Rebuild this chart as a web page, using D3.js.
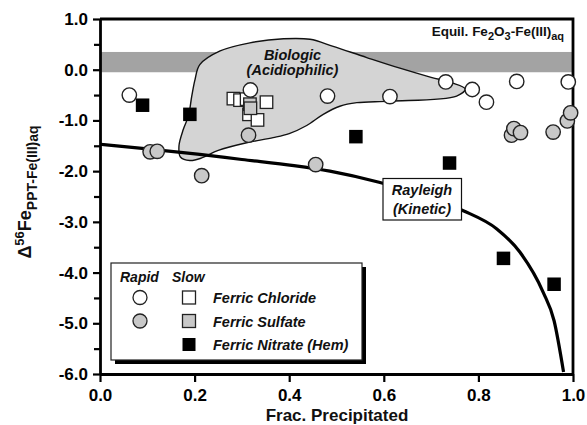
<!DOCTYPE html>
<html><head><meta charset="utf-8">
<script src="https://cdn.jsdelivr.net/npm/d3@7"></script>
<style>
body{margin:0;background:#fff;}
text{font-family:"Liberation Sans",Arial,sans-serif;}
</style></head>
<body><svg id="c" width="587" height="425"></svg>
<script>
// ---- data ----
const xTicks = [0, 0.2, 0.4, 0.6, 0.8, 1.0];
const yTicks = [1, 0, -1, -2, -3, -4, -5, -6];
const yMinorTicks = [0.5, -0.5, -1.5, -2.5, -3.5, -4.5, -5.5];
const equilBand = [-0.05, 0.35];

// Ferric chloride, rapid (white circles)
const chlorideRapid = [[0.062,-0.50],[0.318,-0.40],[0.481,-0.52],[0.613,-0.53],[0.731,-0.24],[0.787,-0.39],[0.817,-0.64],[0.881,-0.23],[0.990,-0.24]];
// Ferric chloride, slow (white squares)
const chlorideSlow = [[0.282,-0.57],[0.296,-0.60],[0.310,-0.58],[0.352,-0.64],[0.315,-0.88],[0.333,-0.99]];
// Ferric sulfate, slow (grey squares)
const sulfateSlow = [[0.317,-0.68],[0.318,-0.76]];
// Ferric sulfate, rapid (grey circles)
const sulfateRapid = [[0.106,-1.62],[0.121,-1.61],[0.215,-2.09],[0.314,-1.29],[0.456,-1.87],[0.870,-1.29],[0.875,-1.16],[0.889,-1.24],[0.958,-1.23],[0.988,-1.01],[0.995,-0.85]];
// Ferric nitrate (hematite), black squares
const nitrate = [[0.090,-0.70],[0.190,-0.88],[0.541,-1.32],[0.739,-1.84],[0.853,-3.72],[0.960,-4.23]];

// Rayleigh (kinetic) curve
const rayleighX = [0, 0.1, 0.211, 0.3, 0.41, 0.486, 0.59, 0.68, 0.768, 0.839, 0.888, 0.937, 0.96, 0.98];
const rayleighY = [-1.47, -1.56, -1.67, -1.77, -1.89, -2.0, -2.22, -2.47, -2.78, -3.14, -3.60, -4.39, -4.95, -5.96];

// Biologic (acidiophilic) field outline
const bioField = [[0.211,0.10],[0.254,0.37],[0.317,0.53],[0.388,0.61],[0.444,0.60],[0.493,0.46],[0.564,0.24],[0.634,0.03],[0.70,-0.15],[0.745,-0.26],[0.772,-0.38],[0.754,-0.52],[0.613,-0.62],[0.543,-0.65],[0.507,-0.72],[0.472,-0.88],[0.437,-1.10],[0.40,-1.26],[0.366,-1.34],[0.310,-1.44],[0.250,-1.59],[0.215,-1.74],[0.190,-1.79],[0.170,-1.72],[0.167,-1.50],[0.176,-1.18],[0.187,-0.91],[0.194,-0.52],[0.201,-0.19]];

const legendRows = ["Ferric Chloride", "Ferric Sulfate", "Ferric Nitrate (Hem)"];

// ---- drawing ----
const svg = d3.select("#c");
const L = 100, R = 573, T = 19, B = 374;
const x = d3.scaleLinear().domain([0, 1]).range([L, R]);
const y = d3.scaleLinear().domain([-6, 1]).range([B, T]);
const GREY_BAND = "#a3a3a3", GREY_FILL = "#d4d4d4", GREY_PT = "#c8c8c8";

svg.append("defs").append("clipPath").attr("id","clip")
  .append("rect").attr("x",L).attr("y",T).attr("width",R-L).attr("height",B-T);

// equilibrium band
svg.append("rect").attr("x", L).attr("width", R - L)
  .attr("y", y(equilBand[1])).attr("height", y(equilBand[0]) - y(equilBand[1]))
  .attr("fill", GREY_BAND);

// biologic field
svg.append("path").datum(bioField)
  .attr("d", d3.line().x(d => x(d[0])).y(d => y(d[1])).curve(d3.curveCatmullRomClosed.alpha(0.5)))
  .attr("fill", GREY_FILL).attr("stroke", "#111").attr("stroke-width", 1.4);

// Rayleigh curve
svg.append("path").datum(rayleighX.map((v, i) => [v, rayleighY[i]]))
  .attr("clip-path","url(#clip)")
  .attr("d", d3.line().x(d => x(d[0])).y(d => y(d[1])).curve(d3.curveMonotoneX))
  .attr("fill", "none").attr("stroke", "#000").attr("stroke-width", 3.2);

// frame
svg.append("path").attr("d", `M${L},${T}H${R}V${B}`).attr("fill","none").attr("stroke","#000").attr("stroke-width",2.8);

// axes
const fmt = d => d.toFixed(1);
const gx = svg.append("g").attr("transform", `translate(0,${B})`)
  .call(d3.axisBottom(x).tickValues(xTicks).tickFormat(fmt).tickSize(8).tickSizeOuter(0).tickPadding(7));
const gy = svg.append("g").attr("transform", `translate(${L},0)`)
  .call(d3.axisLeft(y).tickValues(yTicks).tickFormat(fmt).tickSize(7).tickSizeOuter(0).tickPadding(5));
svg.append("g").attr("transform", `translate(${L},0)`)
  .call(d3.axisLeft(y).tickValues(yMinorTicks).tickFormat("").tickSize(6).tickSizeOuter(0))
  .call(g => g.select(".domain").remove())
  .selectAll("line").attr("stroke-width", 2.2);
[gx, gy].forEach(g => {
  g.select(".domain").attr("stroke-width", 2.8);
  g.selectAll(".tick line").attr("stroke-width", 2.2);
  g.selectAll("text").attr("font-size", 17).attr("font-weight", "bold").attr("fill", "#000")
    .attr("font-family", '"Liberation Sans",Arial,sans-serif');
});

// points
const r = 7.2, sq = 12.5, sqB = 13.5;
svg.append("g").selectAll("rect").data(chlorideSlow).join("rect")
  .attr("x", d => x(d[0]) - sq/2).attr("y", d => y(d[1]) - sq/2).attr("width", sq).attr("height", sq)
  .attr("fill", "#fff").attr("stroke", "#222").attr("stroke-width", 1.3);
svg.append("g").selectAll("rect").data(sulfateSlow).join("rect")
  .attr("x", d => x(d[0]) - sq/2).attr("y", d => y(d[1]) - sq/2).attr("width", sq).attr("height", sq)
  .attr("fill", GREY_PT).attr("stroke", "#222").attr("stroke-width", 1.3);
svg.append("g").selectAll("circle").data(chlorideRapid).join("circle")
  .attr("cx", d => x(d[0])).attr("cy", d => y(d[1])).attr("r", r)
  .attr("fill", "#fff").attr("stroke", "#222").attr("stroke-width", 1.4);
svg.append("g").selectAll("circle").data(sulfateRapid).join("circle")
  .attr("cx", d => x(d[0])).attr("cy", d => y(d[1])).attr("r", r)
  .attr("fill", GREY_PT).attr("stroke", "#222").attr("stroke-width", 1.4);
svg.append("g").selectAll("rect").data(nitrate).join("rect")
  .attr("x", d => x(d[0]) - sqB/2).attr("y", d => y(d[1]) - sqB/2).attr("width", sqB).attr("height", sqB)
  .attr("fill", "#000");

// annotations
const bi = g => g.attr("font-weight","bold").attr("font-style","italic").attr("fill","#111");
svg.append("text").attr("x", 292.5).attr("y", 60).attr("text-anchor","middle").attr("font-size",14.5).call(bi).text("Biologic");
svg.append("text").attr("x", 292.5).attr("y", 75).attr("text-anchor","middle").attr("font-size",14.5).call(bi).text("(Acidiophilic)");

const eq = svg.append("text").attr("x", 564).attr("y", 36).attr("text-anchor","end")
  .attr("font-size", 13.5).attr("font-weight","bold").attr("fill","#111");
eq.append("tspan").text("Equil. Fe");
eq.append("tspan").attr("dy", 4).attr("font-size", 11).text("2");
eq.append("tspan").attr("dy", -4).text("O");
eq.append("tspan").attr("dy", 4).attr("font-size", 11).text("3");
eq.append("tspan").attr("dy", -4).text("-Fe(III)");
eq.append("tspan").attr("dy", 4).attr("font-size", 11).text("aq");

// Rayleigh label
svg.append("rect").attr("x", 383).attr("y", 178.5).attr("width", 78.5).attr("height", 41.5)
  .attr("fill", "#fff").attr("stroke", "#111").attr("stroke-width", 1.2);
svg.append("text").attr("x", 422).attr("y", 195).attr("text-anchor","middle").attr("font-size",14.5).call(bi).text("Rayleigh");
svg.append("text").attr("x", 422).attr("y", 214).attr("text-anchor","middle").attr("font-size",14.5).call(bi).text("(Kinetic)");

// legend
const lg = svg.append("g");
lg.append("rect").attr("x", 115).attr("y", 267).attr("width", 251).attr("height", 97).attr("fill", "#000");
lg.append("rect").attr("x", 111).attr("y", 263).attr("width", 251).attr("height", 97)
  .attr("fill", "#fff").attr("stroke", "#222").attr("stroke-width", 1.2);
lg.append("text").attr("x", 120).attr("y", 282).attr("font-size", 14).call(bi).text("Rapid");
lg.append("text").attr("x", 172).attr("y", 282).attr("font-size", 14).call(bi).text("Slow");
const rowY = [297.5, 321, 344.5];
const rowFill = ["#fff", GREY_PT, "#000"];
legendRows.forEach((lab, i) => {
  if (i < 2) lg.append("circle").attr("cx", 140).attr("cy", rowY[i]).attr("r", 7)
    .attr("fill", rowFill[i]).attr("stroke", "#222").attr("stroke-width", 1.3);
  lg.append("rect").attr("x", 189 - 6.5).attr("y", rowY[i] - 6.5).attr("width", 13).attr("height", 13)
    .attr("fill", rowFill[i]).attr("stroke", i < 2 ? "#222" : "none").attr("stroke-width", 1.3);
  lg.append("text").attr("x", 213).attr("y", rowY[i] + 5.5).attr("font-size", 14.5).call(bi).text(lab);
});

// axis titles
svg.append("text").attr("x", 337).attr("y", 421).attr("text-anchor","middle")
  .attr("font-size", 17).attr("font-weight","bold").attr("fill","#111").text("Frac. Precipitated");
const yt = svg.append("text").attr("transform", "translate(31,192) rotate(-90)").attr("text-anchor","middle")
  .attr("font-size", 18).attr("font-weight","bold").attr("fill","#111");
yt.append("tspan").text("\u0394");
yt.append("tspan").attr("dy", -7).attr("font-size", 13).text("56");
yt.append("tspan").attr("dy", 7).text("Fe");
yt.append("tspan").attr("dy", 6).attr("font-size", 14).text("PPT-Fe(III)");
yt.append("tspan").attr("dy", 1).attr("font-size", 14).text("aq");
</script></body></html>
